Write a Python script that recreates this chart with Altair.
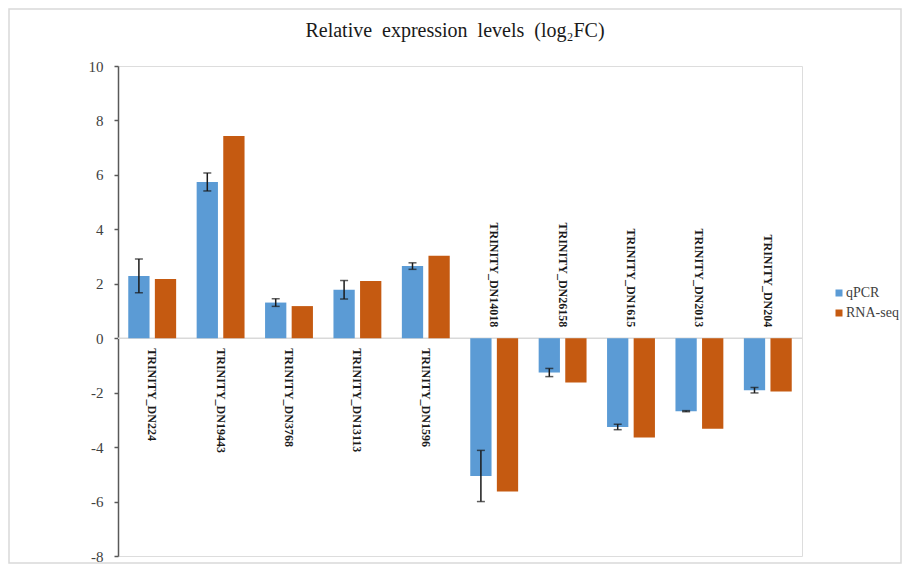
import altair as alt
import pandas as pd

genes = ["TRINITY_DN224", "TRINITY_DN19443", "TRINITY_DN3768", "TRINITY_DN13113",
         "TRINITY_DN1596", "TRINITY_DN14018", "TRINITY_DN26158", "TRINITY_DN1615",
         "TRINITY_DN2013", "TRINITY_DN204"]
qpcr = [2.29, 5.74, 1.31, 1.78, 2.65, -5.06, -1.26, -3.26, -2.68, -1.91]
qpcr_err = [0.62, 0.33, 0.14, 0.34, 0.12, 0.94, 0.15, 0.10, 0.02, 0.10]
rnaseq = [2.18, 7.43, 1.18, 2.10, 3.03, -5.63, -1.63, -3.65, -3.33, -1.96]
series = ["qPCR", "RNA-seq"]
colors = ["#5B9BD5", "#C55A11"]
y_ticks = [-8, -6, -4, -2, 0, 2, 4, 6, 8, 10]
title_text = "Relative\u00a0 expression\u00a0 levels\u00a0 (log₂FC)"

FONT = "Liberation Serif"
W, H = 684, 490

rows = []
for g, q, r in zip(genes, qpcr, rnaseq):
    rows.append({"gene": g, "series": "qPCR", "value": q})
    rows.append({"gene": g, "series": "RNA-seq", "value": r})
bars_df = pd.DataFrame(rows)

err_df = pd.DataFrame({
    "gene": genes,
    "series": ["qPCR"] * len(genes),
    "lo": [q - e for q, e in zip(qpcr, qpcr_err)],
    "hi": [q + e for q, e in zip(qpcr, qpcr_err)],
})

lab_df = pd.DataFrame({"gene": genes, "qpcr": qpcr, "zero": [0] * len(genes)})

x_enc = alt.X("gene:N", sort=genes, axis=None,
              scale=alt.Scale(paddingInner=0.3, paddingOuter=0.15))
y_scale = alt.Scale(domain=[-8, 10], nice=False)
off_enc = alt.XOffset("series:N", scale=alt.Scale(domain=series, paddingInner=0.2))

zero_line = alt.Chart(pd.DataFrame({"z": [0]})).mark_rule(
    color="#D9D9D9", strokeWidth=1.5
).encode(y=alt.Y("z:Q", scale=y_scale))

bars = alt.Chart(bars_df).mark_bar().encode(
    x=x_enc,
    xOffset=off_enc,
    y=alt.Y("value:Q", scale=y_scale,
            axis=alt.Axis(values=y_ticks, title=None, grid=False,
                          labelExpr="'' + datum.value",
                          domainColor="#595959", domainWidth=1.5,
                          tickColor="#595959", tickWidth=1.5, tickSize=4,
                          labelPadding=11, labelFont=FONT, labelFontSize=15,
                          labelColor="#404040")),
    color=alt.Color("series:N", scale=alt.Scale(domain=series, range=colors),
                    legend=alt.Legend(title=None, orient="none", legendX=714,
                                      legendY=220, padding=0, symbolType="square",
                                      symbolSize=49, symbolStrokeWidth=0,
                                      labelFont=FONT, labelFontSize=14,
                                      labelColor="#404040", labelOffset=0,
                                      rowPadding=6)),
)

err_rule = alt.Chart(err_df).mark_rule(color="#1a1a1a", strokeWidth=1.5).encode(
    x=x_enc, xOffset=off_enc,
    y=alt.Y("lo:Q", scale=y_scale), y2="hi:Q",
)
err_lo = alt.Chart(err_df).mark_tick(color="#1a1a1a", thickness=1.5, size=8,
                                     orient="horizontal").encode(
    x=x_enc, xOffset=off_enc, y=alt.Y("lo:Q", scale=y_scale))
err_hi = alt.Chart(err_df).mark_tick(color="#1a1a1a", thickness=1.5, size=8,
                                     orient="horizontal").encode(
    x=x_enc, xOffset=off_enc, y=alt.Y("hi:Q", scale=y_scale))

lab_pos = alt.Chart(lab_df).transform_filter("datum.qpcr > 0").mark_text(
    angle=90, align="left", baseline="middle", dx=10, font=FONT,
    fontSize=12, fontWeight="bold", color="#1a1a1a"
).encode(x=x_enc, y=alt.Y("zero:Q", scale=y_scale), text="gene:N")

lab_neg = alt.Chart(lab_df).transform_filter("datum.qpcr < 0").mark_text(
    angle=90, align="right", baseline="middle", dx=-11, font=FONT,
    fontSize=12, fontWeight="bold", color="#1a1a1a"
).encode(x=x_enc, y=alt.Y("zero:Q", scale=y_scale), text="gene:N")

title = alt.Chart(pd.DataFrame({"t": [title_text]})).mark_text(
    font=FONT, fontSize=20, color="#1a1a1a", align="center", baseline="alphabetic"
).encode(x=alt.value(337), y=alt.value(-29), text="t:N")

border = alt.Chart(pd.DataFrame({"b": [0]})).mark_rect(
    fill=None, stroke="#D9D9D9", strokeWidth=1.5
).encode(x=alt.value(-109), x2=alt.value(783), y=alt.value(-57), y2=alt.value(497))

chart = alt.layer(
    border, zero_line, bars, err_rule, err_lo, err_hi, lab_pos, lab_neg, title
).properties(
    width=W, height=H,
    padding={"left": 110, "top": 58, "right": 100, "bottom": 8},
    autosize=alt.AutoSizeParams(type="none"),
).configure_view(stroke=None).configure(background="white")

chart.save("out.html", embed_options={"renderer": "svg", "actions": False})
